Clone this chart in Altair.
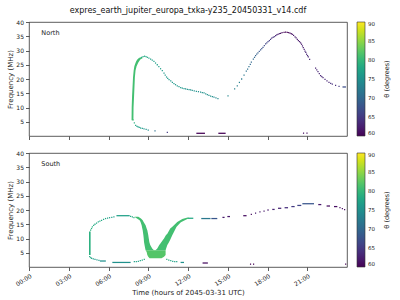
import altair as alt
import pandas as pd

TITLE = "expres_earth_jupiter_europa_txka-y235_20450331_v14.cdf"
X_TICKS = [0, 3, 6, 9, 12, 15, 18, 21]
Y_TICKS = [5, 10, 15, 20, 25, 30, 35, 40]
CBAR_TICKS = [60, 65, 70, 75, 80, 85, 90]
CBAR_TITLE = "θ (degrees)"
PANEL_LABELS = ["North", "South"]

# ---------------- North hemisphere ----------------
# single emission dots: time (h), frequency (MHz), theta (deg)
N_dot_t = [8.05, 8.17, 8.30, 8.40, 8.50, 8.61, 8.72, 8.83, 8.93, 9.05, 9.18, 9.30, 9.43, 9.55, 9.68,
           9.80, 9.93, 10.06, 10.19, 10.28, 10.38, 10.47, 10.57, 10.70, 10.82, 10.94, 11.06, 11.19,
           11.32, 11.45, 11.57, 11.70, 11.82, 11.95, 12.08, 12.20, 12.32, 12.47, 12.63, 12.79, 12.95,
           13.08, 13.21, 13.34, 13.46, 13.58, 13.71, 13.84, 13.96, 14.11, 14.26,
           7.85, 7.95, 8.05, 8.15, 8.23, 8.32, 8.42, 8.55, 8.68, 8.84, 9.00, 9.51, 10.44,
           20.72, 20.98,
           15.02, 15.52, 15.72, 15.88, 16.05, 16.23, 16.40, 16.50, 16.60, 16.70, 16.78, 16.93, 17.02,
           17.10, 17.19, 17.28, 17.38, 17.48, 17.57, 17.66, 17.76, 17.86, 17.95, 18.04, 18.14, 18.23,
           18.32, 18.42, 18.51, 18.61, 18.70, 18.79, 18.89, 18.99, 19.10, 19.25, 19.37, 19.49, 19.60,
           19.70, 19.79, 19.87, 19.97, 20.08, 20.16, 20.25, 20.33, 20.42, 20.50, 20.57, 20.64, 20.70,
           20.77, 20.83, 20.89, 20.95, 21.02, 21.08, 21.18, 21.63, 21.72, 21.81, 21.91, 22.01, 22.10,
           22.19, 22.34, 22.49, 22.64, 22.77, 22.89, 23.14, 23.40]
N_dot_f = [25.0, 26.2, 27.0, 27.3, 27.6, 27.85, 28.0, 27.85, 27.6, 27.3, 27.0, 26.6, 26.2, 25.6, 25.0,
           24.3, 23.6, 22.9, 22.1, 21.4, 20.7, 20.2, 19.8, 19.3, 18.8, 18.4, 18.0, 17.6,
           17.3, 17.0, 16.8, 16.6, 16.5, 16.4, 16.3, 16.15, 16.0, 15.85, 15.7, 15.55, 15.4,
           15.25, 15.1, 14.8, 14.5, 14.25, 14.0, 13.8, 13.6, 13.35, 13.1,
           5.7, 4.6, 3.7, 3.4, 3.2, 3.0, 2.8, 2.65, 2.5, 2.3, 2.1, 1.8, 1.3,
           1.0, 1.0,
           14.1, 16.5, 17.6, 18.8, 20.0, 21.4, 22.8, 23.5, 24.3, 25.1, 25.9, 27.0, 27.6,
           28.2, 28.7, 29.2, 29.7, 30.2, 30.7, 31.1, 31.7, 32.3, 32.7, 33.1, 33.5, 33.9,
           34.3, 34.6, 34.9, 35.2, 35.5, 35.7, 35.9, 36.0, 36.25, 36.4, 36.45, 36.4, 36.3,
           36.1, 35.9, 35.7, 35.3, 34.8, 34.4, 33.9, 33.5, 33.1, 32.7, 32.2, 31.6, 31.0,
           30.4, 29.8, 29.3, 28.7, 28.2, 27.8, 26.9, 23.8, 23.2, 22.6, 21.9, 21.2, 20.8,
           20.5, 19.9, 19.3, 18.8, 18.5, 18.2, 17.8, 17.4]
N_dot_th = [79, 79, 78, 78, 78, 78, 78, 78, 78, 77, 77, 77, 77, 77, 77,
            77, 77, 76, 76, 76, 76, 76, 76, 76, 76, 76, 76, 76,
            76, 76, 76, 76, 75, 75, 75, 75, 75, 75, 75, 75, 75,
            75, 75, 75, 75, 75, 75, 75, 74, 74, 74,
            80, 79, 78, 77, 77, 77, 77, 76, 76, 75, 75, 71, 65,
            61, 61,
            74, 73, 73, 73, 72, 72, 71, 71, 71, 70, 70, 70, 70,
            69, 69, 69, 68, 68, 68, 67, 67, 66, 66, 66, 65, 65,
            64, 64, 64, 63, 63, 62, 62, 61, 61, 60, 60, 60, 60,
            61, 61, 61, 62, 62, 62, 62, 62, 62, 62, 62, 62, 62,
            63, 63, 63, 63, 63, 63, 63, 63, 63, 63, 63, 63, 63,
            63, 63, 63, 63, 64, 64, 64, 65]
# short horizontal dashes: start time, end time, frequency, theta
N_dash_t0 = [12.63, 14.29, 23.66]
N_dash_t1 = [13.28, 14.84, 23.92]
N_dash_f = [0.95, 0.95, 17.2]
N_dash_th = [60, 60, 67]
# thick emission bands: per frequency, left and right time edge
N_band_id = ["nv"] * 9
N_band_f = [5.5, 10.0, 14.0, 20.5, 23.0, 24.5, 25.8, 26.8, 27.5]
N_band_tl = [7.74, 7.75, 7.78, 7.85, 7.90, 7.95, 8.05, 8.17, 8.35]
N_band_tr = [7.88, 7.89, 7.93, 7.99, 8.04, 8.12, 8.25, 8.40, 8.62]
N_band_th = [81] * 9

# ---------------- South hemisphere ----------------
S_dot_t = [4.65, 4.72, 4.78, 4.88, 4.98, 5.10, 5.23, 5.35, 5.48, 5.63, 5.78, 5.93, 6.08, 6.25, 6.41,
           7.67, 7.80, 7.92,
           4.58, 4.66, 4.73, 4.85, 4.98, 5.13, 5.28,
           7.95, 8.10, 8.25, 8.40, 8.55, 8.70,
           10.40, 10.55, 10.70, 10.85, 11.00, 11.15,
           16.78, 17.10, 17.43, 17.74, 18.04,
           23.47, 23.65, 23.82,
           16.72, 16.95, 23.90]
S_dot_f = [12.9, 13.5, 14.1, 14.6, 15.0, 15.4, 15.8, 16.1, 16.4, 16.7, 17.0, 17.15, 17.3, 17.45, 17.6,
           17.8, 17.55, 17.3,
           3.6, 3.3, 3.0, 2.85, 2.7, 2.5, 2.3,
           1.85, 1.9, 2.0, 2.2, 2.4, 2.7,
           2.7, 2.4, 2.2, 2.0, 1.9, 1.85,
           18.5, 18.9, 19.3, 19.6, 20.0,
           20.8, 20.5, 20.1,
           1.0, 1.0, 1.0]
S_dot_th = [79, 79, 79, 78, 78, 78, 78, 78, 78, 78, 78, 77, 77, 77, 77,
            78, 78, 79,
            78, 78, 77, 77, 76, 76, 76,
            77, 77, 77, 78, 78, 79,
            79, 78, 78, 77, 77, 77,
            61, 62, 62, 62, 62,
            61, 61, 61,
            60, 60, 60]
S_dash_t0 = [6.60, 5.35, 6.29, 11.44, 11.95, 13.00, 13.76, 14.60, 14.97, 16.17,
             18.36, 18.79, 19.29, 19.80, 20.25, 20.63, 21.83, 22.46, 23.02, 13.10]
S_dash_t1 = [7.60, 5.80, 7.67, 11.70, 12.40, 13.70, 14.21, 14.76, 15.17, 16.42,
             18.54, 19.04, 19.55, 20.05, 20.55, 21.51, 22.06, 22.72, 23.27, 13.50]
S_dash_f = [18.0, 2.1, 1.6, 1.6, 17.1, 17.0, 17.0, 17.4, 17.7, 18.0,
            20.2, 20.6, 20.8, 21.2, 21.6, 22.2, 21.9, 21.4, 21.2, 1.4]
S_dash_th = [77, 75, 75, 75, 78, 72, 68, 62, 62, 61,
             63, 63, 64, 65, 66, 68, 62, 61, 61, 61]
S_band_id = (["west"] * 2 + ["left"] * 13 + ["base"] * 5 + ["right"] * 14)
S_band_f = [4.2, 12.5,
            5.9, 6.5, 7.7, 8.8, 10.0, 11.2, 12.9, 13.5, 14.65, 15.8, 16.4, 17.0, 17.6,
            3.1, 3.6, 4.2, 5.3, 5.9,
            5.9, 6.5, 7.7, 8.3, 9.4, 10.0, 11.2, 11.7, 13.5, 14.1, 15.6, 15.8, 16.8, 17.3]
S_band_tl = [4.53, 4.53,
             8.80, 8.77, 8.72, 8.68, 8.66, 8.63, 8.58, 8.55, 8.50, 8.42, 8.35, 8.15, 7.95,
             9.10, 9.00, 8.93, 8.88, 8.80,
             9.55, 9.68, 9.83, 9.93, 10.09, 10.19, 10.34, 10.44, 10.66, 10.82, 11.15, 11.19, 11.57, 11.90]
S_band_tr = [4.65, 4.65,
             9.43, 9.30, 9.15, 9.08, 9.04, 9.00, 8.93, 8.88, 8.80, 8.65, 8.58, 8.45, 8.25,
             10.00, 10.19, 10.31, 10.31, 10.31,
             10.31, 10.35, 10.44, 10.52, 10.64, 10.70, 10.82, 10.87, 11.07, 11.14, 11.44, 11.50, 11.95, 12.10]
S_band_th = ([79] * 2 + [81] * 13 + [82] * 5 + [81] * 14)

DT = 0.045   # half width of one time bin (h)
DF = 0.22    # half height of one frequency bin (MHz)
W, H = 318, 114


def build_points(dot_t, dot_f, dot_th, d_t0, d_t1, d_f, d_th):
    rows = []
    for t, f, th in zip(dot_t, dot_f, dot_th):
        rows.append({"t0": t - DT, "t1": t + DT, "f0": f - DF, "f1": f + DF, "theta": th})
    for a, b, f, th in zip(d_t0, d_t1, d_f, d_th):
        rows.append({"t0": a, "t1": b, "f0": f - DF, "f1": f + DF, "theta": th})
    return pd.DataFrame(rows)


def build_bands(ids, f, tl, tr, th):
    return pd.DataFrame({"band": ids, "f0": f, "t0": tl, "t1": tr, "theta": th})


north = build_points(N_dot_t, N_dot_f, N_dot_th, N_dash_t0, N_dash_t1, N_dash_f, N_dash_th)
north_b = build_bands(N_band_id, N_band_f, N_band_tl, N_band_tr, N_band_th)
south = build_points(S_dot_t, S_dot_f, S_dot_th, S_dash_t0, S_dash_t1, S_dash_f, S_dash_th)
south_b = build_bands(S_band_id, S_band_f, S_band_tl, S_band_tr, S_band_th)

FONT = "DejaVu Sans"
XSCALE = alt.Scale(domain=[0, 24], nice=False, zero=False)
YSCALE = alt.Scale(domain=[0, 40], nice=False, zero=False)
CSCALE = alt.Scale(scheme="viridis", domain=[60, 90])


def panel(df, bands, label, bottom, title=None):
    x_axis = alt.Axis(values=X_TICKS, labels=bottom, title="Time (hours of 2045-03-31 UTC)" if bottom else None,
                      labelExpr="(datum.value < 10 ? '0' : '') + datum.value + ':00'",
                      labelAngle=-32, labelAlign="right", labelBaseline="top", grid=False, domain=False)
    y_axis = alt.Axis(values=Y_TICKS, title="Frequency (MHz)", grid=False, domain=False)
    x = alt.X("t0:Q", scale=XSCALE, axis=x_axis)
    y = alt.Y("f0:Q", scale=YSCALE, axis=y_axis)
    color = alt.Color("theta:Q", scale=CSCALE,
                      legend=alt.Legend(title=None, orient="right", direction="vertical",
                                        gradientLength=H, gradientThickness=8, values=CBAR_TICKS,
                                        labelFontSize=5.5, offset=10, labelOffset=3, labelOverlap=False,
                                        gradientStrokeColor="#333", gradientStrokeWidth=0.6,
                                        labelColor="#222"))
    area = alt.Chart(bands).mark_area(orient="horizontal", strokeWidth=0, opacity=1).encode(
        x=alt.X("t0:Q", scale=XSCALE, axis=x_axis, stack=None),
        x2="t1:Q",
        y=alt.Y("f0:Q", scale=YSCALE, axis=y_axis),
        color=alt.Color("theta:Q", scale=CSCALE, legend=None),
        detail="band:N")
    rects = alt.Chart(df).mark_rect(strokeWidth=0).encode(x=x, x2="t1:Q", y=y, y2="f1:Q", color=color)
    txt = alt.Chart(pd.DataFrame({"t0": [0.93], "f0": [36.3], "label": [label]})).mark_text(
        align="left", baseline="middle", fontSize=6.5, font=FONT, color="#222").encode(
        x=x, y=y, text="label:N")
    cbar_title = alt.Chart(pd.DataFrame({"label": [CBAR_TITLE]})).mark_text(
        align="center", baseline="middle", angle=270, fontSize=6.5, font=FONT, color="#222").encode(
        x=alt.value(W + 40), y=alt.value(H / 2), text="label:N")
    ch = alt.layer(rects, area, txt, cbar_title).properties(width=W, height=H)
    if title:
        ch = ch.properties(title=alt.TitleParams(title, fontSize=8, font=FONT, fontWeight="normal",
                                                 anchor="middle", frame="group", offset=4, color="#111"))
    return ch


top = panel(north, north_b, PANEL_LABELS[0], False, TITLE)
bot = panel(south, south_b, PANEL_LABELS[1], True)

chart = alt.vconcat(top, bot, spacing=8).resolve_scale(color="independent", x="independent").resolve_legend(
    color="independent").properties(padding={"left": 6, "top": 6, "right": 4, "bottom": 2}).configure(
    font=FONT).configure_view(stroke="#333", strokeWidth=0.8).configure_axis(
    labelFont=FONT, titleFont=FONT, labelFontSize=6, titleFontSize=7, titleFontWeight="normal",
    tickColor="#333", labelColor="#222", titleColor="#222", tickSize=3.5, tickWidth=0.8,
    labelPadding=2, titlePadding=2)

chart.save("out.html", embed_options={"renderer": "svg", "actions": False})
